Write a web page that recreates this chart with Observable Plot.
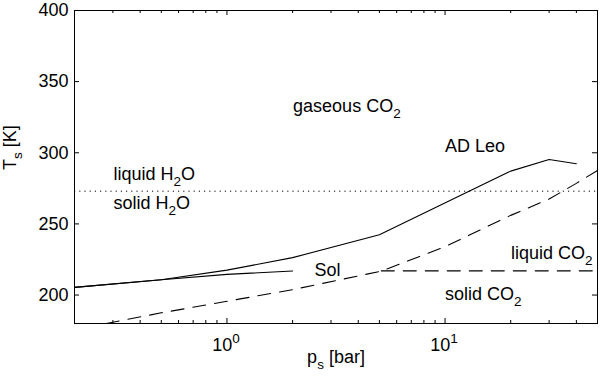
<!DOCTYPE html>
<html>
<head>
<meta charset="utf-8">
<script src="https://cdn.jsdelivr.net/npm/d3@7"></script>
<script src="https://cdn.jsdelivr.net/npm/@observablehq/plot@0.6"></script>
<style>
  html, body { margin: 0; padding: 0; background: white; }
  #chart text { white-space: pre; }
</style>
</head>
<body>
<div id="chart"></div>
<script>
// ---- data ----
const adLeoP = [0.2, 0.5, 1, 2, 5, 20, 30, 40];
const adLeoT = [205.4, 210.8, 217.5, 226.3, 242.4, 287.1, 295.3, 292.3];

const solP = [0.2, 0.5, 1, 2];
const solT = [205.4, 210.8, 214.5, 216.9];

// CO2 saturation (sublimation / vaporisation) curve
const co2SatP = [0.28, 0.5, 1, 2, 5.1, 10, 20, 30, 40, 50];
const co2SatT = [180, 187.5, 195.6, 203.8, 216.8, 234, 256, 267.5, 278.5, 287.6];

// CO2 triple-point line (solid / liquid boundary)
const co2TripleP = [5.1, 50];
const co2TripleT = [217, 217];

// H2O freezing line
const h2oFreezeT = [273];

// region labels
const labelText = ["gaseous CO_{2}", "AD Leo", "liquid H_{2}O", "solid H_{2}O", "Sol", "liquid CO_{2}", "solid CO_{2}"];
const labelP = [2.01, 10, 0.302, 0.302, 2.52, 20.06, 10];
const labelT = [333, 304.5, 284.6, 264.8, 217.2, 229.6, 200.3];

// ticks
const xMajorTicks = [1, 10];
const xMajorLabels = ["10^{0}", "10^{1}"];
const xMinorTicks = [0.3, 0.4, 0.5, 0.6, 0.7, 0.8, 0.9, 2, 3, 4, 5, 6, 7, 8, 9, 20, 30, 40];
const yTicks = [200, 250, 300, 350, 400];

const xTitle = "p_{s} [bar]";
const yTitle = "T_{s} [K]";

// ---- layout ----
const W = 600, H = 382;
const mL = 74, mR = 3, mT = 10, mB = 59;
const innerW = W - mL - mR, innerH = H - mT - mB;
const majorLen = 5, minorLen = 3;

const toPts = (P, T) => P.map((p, i) => ({p, t: T[i]}));
const adLeo = toPts(adLeoP, adLeoT);
const sol = toPts(solP, solT);
const co2Sat = toPts(co2SatP, co2SatT);
const co2Triple = toPts(co2TripleP, co2TripleT);
const labels = labelText.map((s, i) => ({s, p: labelP[i], t: labelT[i]}));

const dash = "13,9";

const chart = Plot.plot({
  width: W, height: H,
  marginLeft: mL, marginRight: mR, marginTop: mT, marginBottom: mB,
  style: {fontFamily: "'Liberation Sans', Arial, Helvetica, sans-serif", fontSize: "18px", background: "white", color: "black"},
  x: {type: "log", domain: [0.2, 50]},
  y: {domain: [180, 400]},
  marks: [
    // curves
    Plot.ruleY(h2oFreezeT, {y: d => d, stroke: "black", strokeWidth: 1, strokeDasharray: "1.2,4"}),
    Plot.line(co2Sat, {x: "p", y: "t", stroke: "black", strokeWidth: 1.1, strokeDasharray: dash}),
    Plot.line(co2Triple, {x: "p", y: "t", stroke: "black", strokeWidth: 1.1, strokeDasharray: dash}),
    Plot.line(sol, {x: "p", y: "t", stroke: "black", strokeWidth: 1.1}),
    Plot.line(adLeo, {x: "p", y: "t", stroke: "black", strokeWidth: 1.1}),
    // labels
    Plot.text(labels, {x: "p", y: "t", text: "s", textAnchor: "start", fill: "black"}),
    // inward ticks: bottom / top
    Plot.tickX(xMajorTicks, {x: d => d, stroke: "black", insetTop: innerH - majorLen}),
    Plot.tickX(xMajorTicks, {x: d => d, stroke: "black", insetBottom: innerH - majorLen}),
    Plot.tickX(xMinorTicks, {x: d => d, stroke: "black", insetTop: innerH - minorLen}),
    Plot.tickX(xMinorTicks, {x: d => d, stroke: "black", insetBottom: innerH - minorLen}),
    // inward ticks: left / right
    Plot.tickY(yTicks, {y: d => d, stroke: "black", insetRight: innerW - majorLen}),
    Plot.tickY(yTicks, {y: d => d, stroke: "black", insetLeft: innerW - majorLen}),
    // axes (labels only)
    Plot.axisX(xMajorTicks, {tickSize: 0, tickPadding: 15, dx: -1, tickFormat: d => xMajorLabels[xMajorTicks.indexOf(d)], label: null, fill: "black"}),
    Plot.axisY(yTicks, {tickSize: 0, tickPadding: 6, label: null, fill: "black"}),
    // axis titles
    Plot.text([xTitle], {frameAnchor: "bottom", text: d => d, dy: 39, fill: "black"}),
    Plot.text([yTitle], {frameAnchor: "left", text: d => d, rotate: -90, dx: -64, dy: 3, fill: "black"}),
    Plot.frame({stroke: "black", strokeWidth: 1})
  ]
});

// turn _{..} and ^{..} into sub/superscript tspans
function richify(root) {
  const ns = "http://www.w3.org/2000/svg";
  root.querySelectorAll("text").forEach(el => {
    const s = el.textContent;
    if (!/[_^]\{/.test(s)) return;
    el.textContent = "";
    const re = /([_^])\{([^}]*)\}/g;
    let last = 0, m, pending = 0;
    const add = (txt, dy, small) => {
      if (!txt) return;
      const t = document.createElementNS(ns, "tspan");
      if (dy) t.setAttribute("dy", dy);
      if (small) t.setAttribute("font-size", "13.5px");
      t.textContent = txt;
      el.appendChild(t);
    };
    while ((m = re.exec(s))) {
      add(s.slice(last, m.index), pending, false);
      const shift = m[1] === "_" ? 6 : -8;
      add(m[2], shift, true);
      pending = -shift;
      last = re.lastIndex;
    }
    add(s.slice(last), pending, false);
  });
}
richify(chart);
document.getElementById("chart").appendChild(chart);
</script>
</body>
</html>
